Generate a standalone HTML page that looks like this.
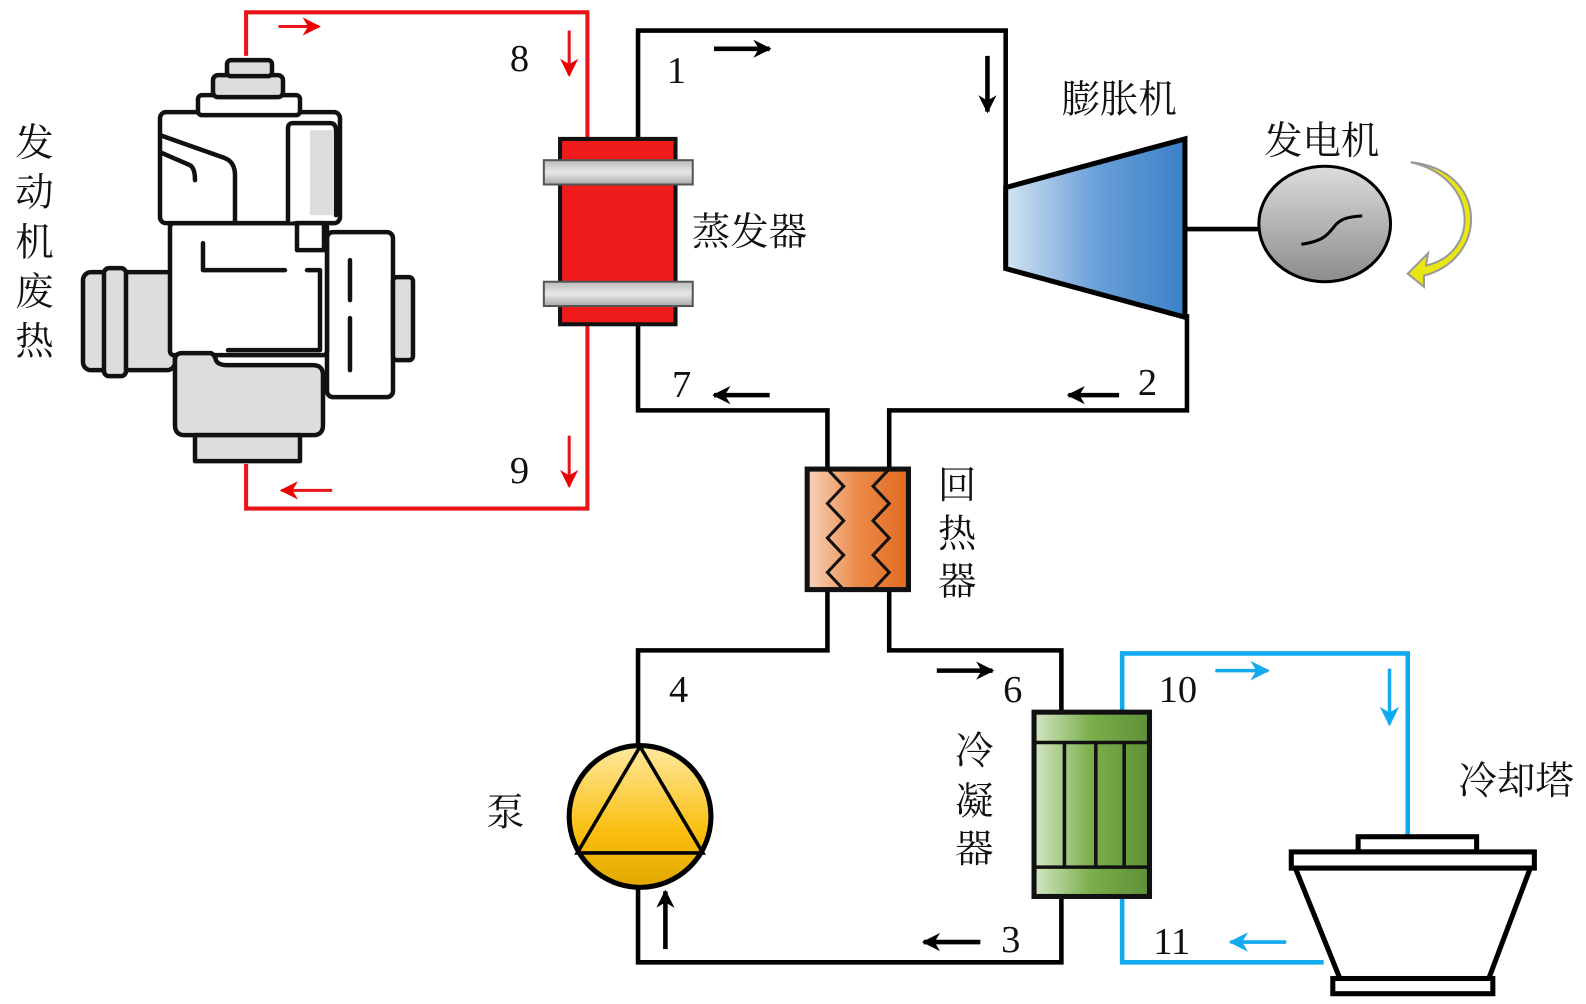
<!DOCTYPE html>
<html><head><meta charset="utf-8"><style>
html,body{margin:0;padding:0;background:#fff;}
svg{display:block;}
text{font-family:"Liberation Serif","Noto Serif CJK SC","Noto Sans CJK SC",serif;}
.cn{font-family:"Noto Serif CJK SC","Noto Sans CJK SC",serif;font-size:38px;fill:#111;}
.num{font-family:"Liberation Serif",serif;font-size:38px;fill:#111;text-anchor:middle;}
</style></head><body>
<svg width="1586" height="1004" viewBox="0 0 1566 991" xmlns="http://www.w3.org/2000/svg">
<defs>
<marker id="ab" viewBox="0 0 10 10" refX="9" refY="5" markerWidth="4" markerHeight="4" orient="auto-start-reverse" markerUnits="strokeWidth"><path d="M0,0 L10,5 L0,10 L3,5 z" fill="#000"/></marker>
<marker id="ar" viewBox="0 0 10 10" refX="9" refY="5" markerWidth="6" markerHeight="6" orient="auto" markerUnits="strokeWidth"><path d="M0,0 L10,5 L0,10 L3,5 z" fill="#e00"/></marker>
<marker id="au" viewBox="0 0 10 10" refX="9" refY="5" markerWidth="5.5" markerHeight="5.5" orient="auto" markerUnits="strokeWidth"><path d="M0,0 L10,5 L0,10 L3,5 z" fill="#11aaee"/></marker>
<linearGradient id="gexp" x1="0" x2="1"><stop offset="0" stop-color="#d4e4f4"/><stop offset="0.5" stop-color="#6aa0d8"/><stop offset="1" stop-color="#3b80c8"/></linearGradient>
<linearGradient id="gen" x1="0" y1="0" x2="0" y2="1"><stop offset="0" stop-color="#dcdcdc"/><stop offset="1" stop-color="#8c8c8c"/></linearGradient>
<linearGradient id="grec" x1="0" x2="1"><stop offset="0" stop-color="#f8d4bc"/><stop offset="0.5" stop-color="#ec8a48"/><stop offset="1" stop-color="#e06a20"/></linearGradient>
<linearGradient id="gpump" x1="0" y1="0" x2="0" y2="1"><stop offset="0" stop-color="#ffe9a0"/><stop offset="0.6" stop-color="#fbbf10"/><stop offset="1" stop-color="#e0a800"/></linearGradient>
<linearGradient id="gcond" x1="0" x2="1"><stop offset="0" stop-color="#d4e6c4"/><stop offset="0.5" stop-color="#7aae4a"/><stop offset="1" stop-color="#5e9038"/></linearGradient>
<linearGradient id="gband" x1="0" y1="0" x2="0" y2="1"><stop offset="0" stop-color="#bbb"/><stop offset="0.5" stop-color="#e8e8e8"/><stop offset="1" stop-color="#aaa"/></linearGradient>
</defs>

<g fill="none" stroke="#e8141a" stroke-width="4">
<polyline points="243,55 243,12 580,12 580,137"/>
<polyline points="580,320 580,502 243,502 243,458"/>
</g>
<g stroke="#e8141a" stroke-width="3" fill="none">
<line x1="275" y1="26" x2="315" y2="26" marker-end="url(#ar)"/>
<line x1="562" y1="30" x2="562" y2="74" marker-end="url(#ar)"/>
<line x1="562" y1="430" x2="562" y2="480" marker-end="url(#ar)"/>
<line x1="328" y1="484" x2="278" y2="484" marker-end="url(#ar)"/>
</g>

<g fill="none" stroke="#000" stroke-width="4.5">
<polyline points="630,137 630,30 993,30 993,185"/>
<line x1="1170" y1="226" x2="1243" y2="226"/>
<polyline points="1172,310 1172,405 878,405 878,463"/>
<polyline points="630,320 630,405 817,405 817,463"/>
<polyline points="817,582 817,642 630,642 630,735"/>
<polyline points="630,876 630,950 1048,950 1048,885"/>
<polyline points="878,582 878,642 1048,642 1048,703"/>
</g>
<g stroke="#000" stroke-width="4.5" fill="none">
<line x1="705" y1="48" x2="760" y2="48" marker-end="url(#ab)"/>
<line x1="975" y1="55" x2="975" y2="110" marker-end="url(#ab)"/>
<line x1="1105" y1="390" x2="1055" y2="390" marker-end="url(#ab)"/>
<line x1="760" y1="390" x2="705" y2="390" marker-end="url(#ab)"/>
<line x1="925" y1="662" x2="980" y2="662" marker-end="url(#ab)"/>
<line x1="968" y1="930" x2="912" y2="930" marker-end="url(#ab)"/>
<line x1="657" y1="937" x2="657" y2="880" marker-end="url(#ab)"/>
</g>

<g fill="none" stroke="#11aaee" stroke-width="4.5">
<polyline points="1108,703 1108,645 1390,645 1390,826"/>
<polyline points="1108,885 1108,950 1307,950"/>
</g>
<g stroke="#11aaee" stroke-width="3.5" fill="none">
<line x1="1200" y1="662" x2="1252" y2="662" marker-end="url(#au)"/>
<line x1="1372" y1="660" x2="1372" y2="715" marker-end="url(#au)"/>
<line x1="1270" y1="930" x2="1215" y2="930" marker-end="url(#au)"/>
</g>

<rect x="553" y="137" width="114" height="183" fill="#f01c1c" stroke="#111" stroke-width="4"/>
<rect x="537" y="158" width="147" height="24" fill="url(#gband)" stroke="#555" stroke-width="2"/>
<rect x="537" y="278" width="147" height="24" fill="url(#gband)" stroke="#555" stroke-width="2"/>

<polygon points="993,185 1170,137 1170,313 993,265" fill="url(#gexp)" stroke="#000" stroke-width="5" stroke-linejoin="miter"/>

<ellipse cx="1308" cy="221" rx="65" ry="57" fill="url(#gen)" stroke="#000" stroke-width="3"/>
<path d="M1285,241 C1305,238 1310,233 1317,224 C1323,216 1330,214 1345,213" fill="none" stroke="#000" stroke-width="3"/>
<path d="M1393,160 C1460,175 1462,250 1408,262 L1410,250 L1390,270 L1406,283 L1406,272 C1470,255 1470,168 1393,160 Z" fill="#e8e810" stroke="#999" stroke-width="2"/>

<rect x="797" y="463" width="100" height="119" fill="url(#grec)" stroke="#111" stroke-width="5"/>
<polyline points="817,463 833,480 817,497 833,514 817,531 833,548 817,565 833,582" fill="none" stroke="#111" stroke-width="3"/>
<polyline points="878,463 862,480 878,497 862,514 878,531 862,548 878,565 862,582" fill="none" stroke="#111" stroke-width="3"/>

<circle cx="632" cy="806" r="70" fill="url(#gpump)" stroke="#000" stroke-width="5"/>
<polygon points="632,737 570,842 694,842" fill="none" stroke="#000" stroke-width="3.5"/>

<rect x="1021" y="703" width="114" height="182" fill="url(#gcond)" stroke="#111" stroke-width="5"/>
<line x1="1021" y1="733" x2="1135" y2="733" stroke="#111" stroke-width="3.5"/>
<line x1="1021" y1="856" x2="1135" y2="856" stroke="#111" stroke-width="3.5"/>
<line x1="1051" y1="733" x2="1051" y2="856" stroke="#111" stroke-width="3.5"/>
<line x1="1082" y1="733" x2="1082" y2="856" stroke="#111" stroke-width="3.5"/>
<line x1="1110" y1="733" x2="1110" y2="856" stroke="#111" stroke-width="3.5"/>

<g fill="#fff" stroke="#000" stroke-width="5">
<rect x="1341" y="826" width="117" height="15"/>
<rect x="1275" y="841" width="240" height="16"/>
<polygon points="1279,857 1511,857 1470,966 1323,966"/>
<rect x="1316" y="966" width="158" height="15"/>
</g>

<g transform="scale(0.98736)" stroke="#111" stroke-width="4.5" stroke-linejoin="round" stroke-linecap="round">
<rect x="83" y="272" width="92" height="98" rx="8" fill="#ddd"/>
<rect x="104" y="268" width="22" height="108" rx="5" fill="#ddd"/>
<rect x="327" y="232" width="66" height="165" rx="6" fill="#fff"/>
<rect x="393" y="277" width="20" height="83" rx="4" fill="#ddd"/>
<rect x="170" y="223" width="157" height="132" rx="4" fill="#fff"/>
<rect x="160" y="112" width="180" height="111" rx="6" fill="#fff"/>
<rect x="198" y="95" width="102" height="20" rx="4" fill="#fff"/>
<rect x="213" y="75" width="70" height="22" rx="5" fill="#ddd"/>
<rect x="227" y="60" width="45" height="16" rx="4" fill="#ddd"/>
<path d="M288,222 L288,128 Q288,123 293,123 L330,123 Q336,123 336,130 L336,215" fill="#fff"/>
<rect x="310" y="130" width="24" height="85" fill="#ddd" stroke="none"/>
<path d="M160,135 L225,158 Q235,162 235,175 L235,222" fill="none"/>
<path d="M160,152 L190,165 Q195,168 195,180" fill="none"/>
<rect x="297" y="223" width="27" height="27" fill="#fff"/>
<path d="M203,243 L203,270 L285,270 M307,270 L320,270 L320,350 L228,350" fill="none"/>
<path d="M350,260 L350,300 M350,318 L350,370" fill="none"/>
<path d="M175,360 Q175,353 182,353 L210,353 Q214,353 216,360 Q218,365 228,365 L313,365 Q323,365 323,375 L323,425 Q323,435 313,435 L185,435 Q175,435 175,425 Z" fill="#ddd"/>
<rect x="195" y="435" width="105" height="26" fill="#ddd"/>
</g>

<g class="cn">
<text x="15" y="154">发</text>
<text x="15" y="203">动</text>
<text x="15" y="252">机</text>
<text x="15" y="301">废</text>
<text x="15" y="350">热</text>
<text x="683" y="242">蒸发器</text>
<text x="1048" y="111">膨胀机</text>
<text x="1248" y="152">发电机</text>
<text x="926" y="492">回</text>
<text x="926" y="540">热</text>
<text x="926" y="587">器</text>
<text x="480" y="815">泵</text>
<text x="943" y="754">冷</text>
<text x="943" y="804">凝</text>
<text x="943" y="851">器</text>
<text x="1440" y="784">冷却塔</text>
</g>
<g class="num">
<text x="513" y="70">8</text>
<text x="668" y="82">1</text>
<text x="673" y="392">7</text>
<text x="1133" y="390">2</text>
<text x="513" y="477">9</text>
<text x="670" y="693">4</text>
<text x="1000" y="693">6</text>
<text x="1163" y="693">10</text>
<text x="998" y="940">3</text>
<text x="1157" y="942">11</text>
</g>
</svg>
</body></html>
